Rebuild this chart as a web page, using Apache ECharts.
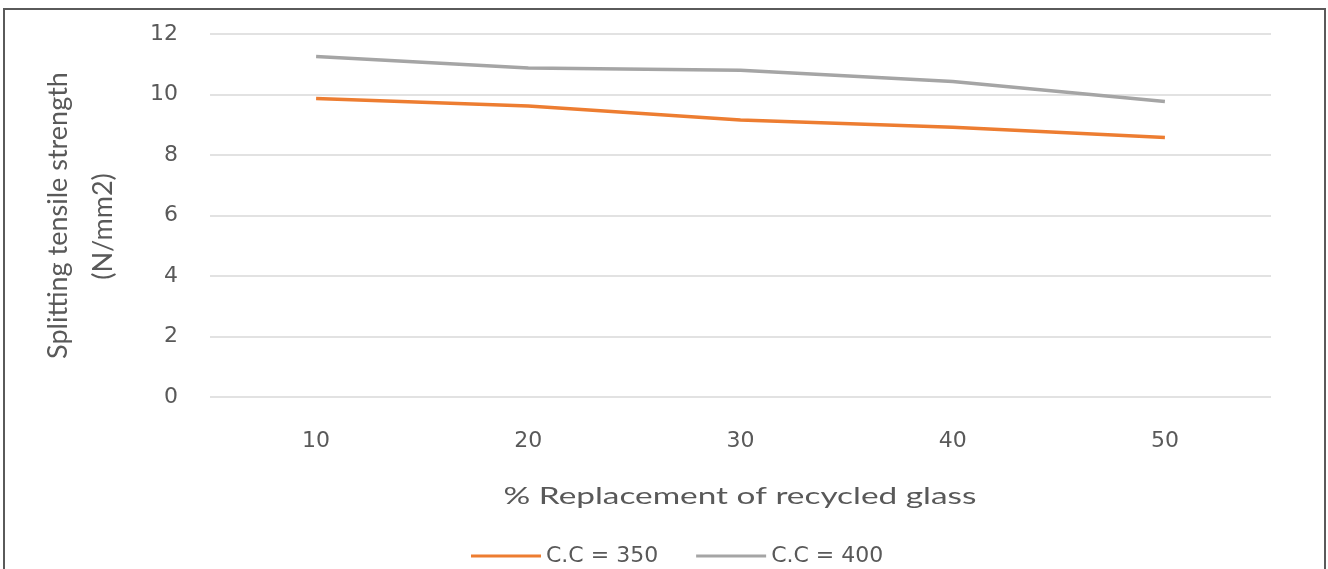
<!DOCTYPE html>
<html>
<head>
<meta charset="utf-8">
<script src="https://cdn.jsdelivr.net/npm/echarts@6/dist/echarts.min.js"></script>
<style>
  html, body { margin: 0; padding: 0; background: #fff; }
  #chart { width: 1328px; height: 569px; }
</style>
</head>
<body>
<div id="chart"></div>
<script>
// Percent replacement of recycled glass
const categories = ['10', '20', '30', '40', '50'];
// Splitting tensile strength (N/mm2) per cement content
const cc350 = [9.87, 9.62, 9.16, 8.92, 8.58];
const cc400 = [11.26, 10.88, 10.8, 10.43, 9.77];
const yTicks = { min: 0, max: 12, interval: 2 };
const xTitle = '% Replacement of recycled glass';
const yTitleLines = ['Splitting tensile strength', '(N/mm2)'];

const textColor = '#595959';
const wideFont = '"DejaVu Sans", sans-serif';
const bodyFont = 'Lato, "Open Sans", sans-serif';

const chart = echarts.init(document.getElementById('chart'), null, { renderer: 'canvas' });
chart.setOption({
  animation: false,
  backgroundColor: '#fff',
  textStyle: { fontFamily: bodyFont, color: textColor },
  graphic: [
    {
      type: 'rect',
      shape: { x: 4, y: 9, width: 1321, height: 580 },
      style: { fill: 'none', stroke: '#5a5a5a', lineWidth: 2 },
      silent: true
    },
    {
      // horizontal axis title, drawn wide
      type: 'text',
      x: 740,
      y: 496,
      scaleX: 1.39,
      style: {
        text: xTitle,
        fill: textColor,
        font: '24px ' + bodyFont,
        textAlign: 'center',
        textVerticalAlign: 'middle'
      },
      silent: true
    }
  ],
  grid: { left: 210, right: 57, top: 34, bottom: 172, containLabel: false },
  legend: {
    top: 540,
    left: 466,
    icon: 'rect',
    itemWidth: 70,
    itemHeight: 3,
    itemGap: 38,
    textStyle: { fontSize: 22, color: textColor, fontFamily: wideFont },
    data: ['C.C = 350', 'C.C = 400']
  },
  xAxis: {
    type: 'category',
    data: categories,
    boundaryGap: true,
    axisLine: { show: false },
    axisTick: { show: false },
    axisLabel: { margin: 33, fontSize: 22, color: textColor, fontFamily: wideFont }
  },
  yAxis: {
    type: 'value',
    min: yTicks.min,
    max: yTicks.max,
    interval: yTicks.interval,
    axisLine: { show: false },
    axisTick: { show: false },
    axisLabel: { margin: 32, fontSize: 22, color: textColor, fontFamily: wideFont },
    splitLine: { lineStyle: { color: '#d9d9d9', width: 1.5 } },
    name: '{a|' + yTitleLines[0] + '}\n{b|' + yTitleLines[1] + '}',
    nameLocation: 'middle',
    nameGap: 84,
    nameTextStyle: {
      fontSize: 27,
      color: textColor,
      fontFamily: bodyFont,
      lineHeight: 45,
      align: 'center',
      rich: {
        a: { fontSize: 27, lineHeight: 45, color: textColor, fontFamily: bodyFont },
        b: { fontSize: 27, lineHeight: 45, color: textColor, fontFamily: bodyFont, padding: [0, 22, 0, 0] }
      }
    }
  },
  series: [
    {
      name: 'C.C = 350',
      type: 'line',
      data: cc350,
      symbol: 'none',
      lineStyle: { color: '#ed7d31', width: 3.5 },
      itemStyle: { color: '#ed7d31' }
    },
    {
      name: 'C.C = 400',
      type: 'line',
      data: cc400,
      symbol: 'none',
      lineStyle: { color: '#a5a5a5', width: 3.5 },
      itemStyle: { color: '#a5a5a5' }
    }
  ]
});
</script>
</body>
</html>
